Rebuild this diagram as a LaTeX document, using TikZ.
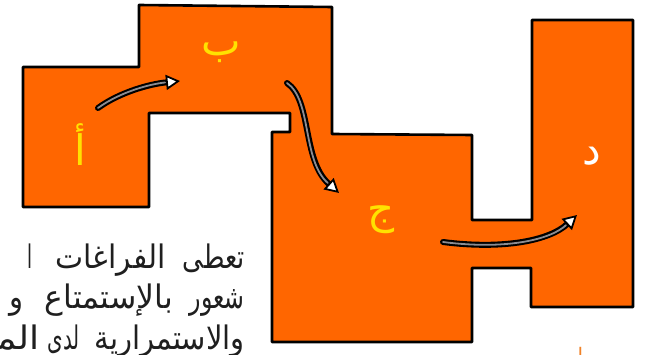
\documentclass[tikz,border=0pt]{standalone}
\usepackage{fontspec}
\usepackage{graphicx}
\newfontfamily\arabicfont[Script=Arabic]{DejaVu Sans}
\TeXXeTstate=1
\usetikzlibrary{arrows.meta}
\definecolor{roomorange}{RGB}{255,102,0}
\definecolor{labelyellow}{RGB}{255,226,0}
\definecolor{arrowgray}{RGB}{140,140,145}
\definecolor{noteorange}{RGB}{240,130,40}
\newcommand{\arword}[2]{\resizebox{#1}{\height}{\scalebox{1}[1.35]{\arabicfont\fontsize{24}{24}\selectfont\beginR #2\endR}}}
\tikzset{
  roomwall/.style={draw=black, line width=2.6pt, line join=round, fill=roomorange},
  roomlabel/.style={inner sep=0pt, font=\arabicfont\fontsize{42}{42}\selectfont},
  flowarrow/.style={draw=black, line width=6pt, line cap=round,
    -{Triangle[length=14pt,width=15pt,line width=1.8pt,fill=white]},
    postaction={draw=arrowgray, line width=1.8pt, shorten >=15pt, -}},
  bodytext/.style={anchor=base east, inner sep=0pt, text=black!88},
}
\begin{document}
\begin{tikzpicture}[x=1pt,y=-1pt]
\useasboundingbox (0,0) rectangle (654,355);
% paragraph, cut off by the picture's left and bottom edges
\begin{scope}
\clip (0,215) rectangle (262,355);
\node[bodytext] (w11) at (245,269) {\arword{62pt}{تعطى}};
\node[bodytext] (w12) at (166,269) {\arword{110pt}{الفراغات}};
\node[bodytext] (w13) at (33,269) {\arword{5pt}{ا}};
\node[bodytext] (w21) at (245,309) {\arword{55pt}{شعور}};
\node[bodytext] (w22) at (173,309) {\arword{128pt}{بالإستمتاع}};
\node[bodytext] (w23) at (24,309) {\arword{14pt}{و}};
\node[bodytext] (w31) at (245,350) {\arword{150pt}{والاستمرارية}};
\node[bodytext] (w32) at (80,350) {\arword{32pt}{لدى}};
\node[bodytext] (w33) at (40,350) {\arword{42pt}{الم^^^^200d}};
\end{scope}
% the spaces (one outline)
\path[roomwall] (23,67) -- (139,67) -- (139,5) -- (332,7) -- (332,134)
  -- (472,135) -- (472,220) -- (532,220) -- (532,20) -- (633,20)
  -- (633,307) -- (531,307) -- (531,268) -- (472,268) -- (472,342)
  -- (272,342) -- (272,132) -- (290,132) -- (290,113) -- (149,113)
  -- (149,207) -- (23,207) -- cycle;
% labels
\node[roomlabel, text=labelyellow] (la) at (80,145) {\beginR أ\endR};
\node[roomlabel, text=labelyellow] (lb) at (221,52) {\beginR ب\endR};
\node[roomlabel, text=labelyellow] (lc) at (381,220) {\beginR ج\endR};
\node[roomlabel, text=white] (ld) at (592,156) {\beginR د\endR};
% arrow end points
\coordinate (a0) at (98,108);
\coordinate (a1) at (180,81);
\coordinate (b0) at (287,83);
\coordinate (b1) at (339,193);
\coordinate (c0) at (443,242);
\coordinate (c1) at (577,215);
\draw[flowarrow] (a0) .. controls (120,92) and (150,84) .. (a1);
\draw[flowarrow] (b0) .. controls (312,100) and (302,160) .. (b1);
\draw[flowarrow] (c0) .. controls (505,250) and (550,240) .. (c1);
% cut-off orange note at the bottom edge
\node[anchor=base, inner sep=0pt, text=noteorange,
  font=\arabicfont\fontsize{20}{20}\selectfont] (note) at (575,363) {\beginR لو\endR};
\end{tikzpicture}
\end{document}
